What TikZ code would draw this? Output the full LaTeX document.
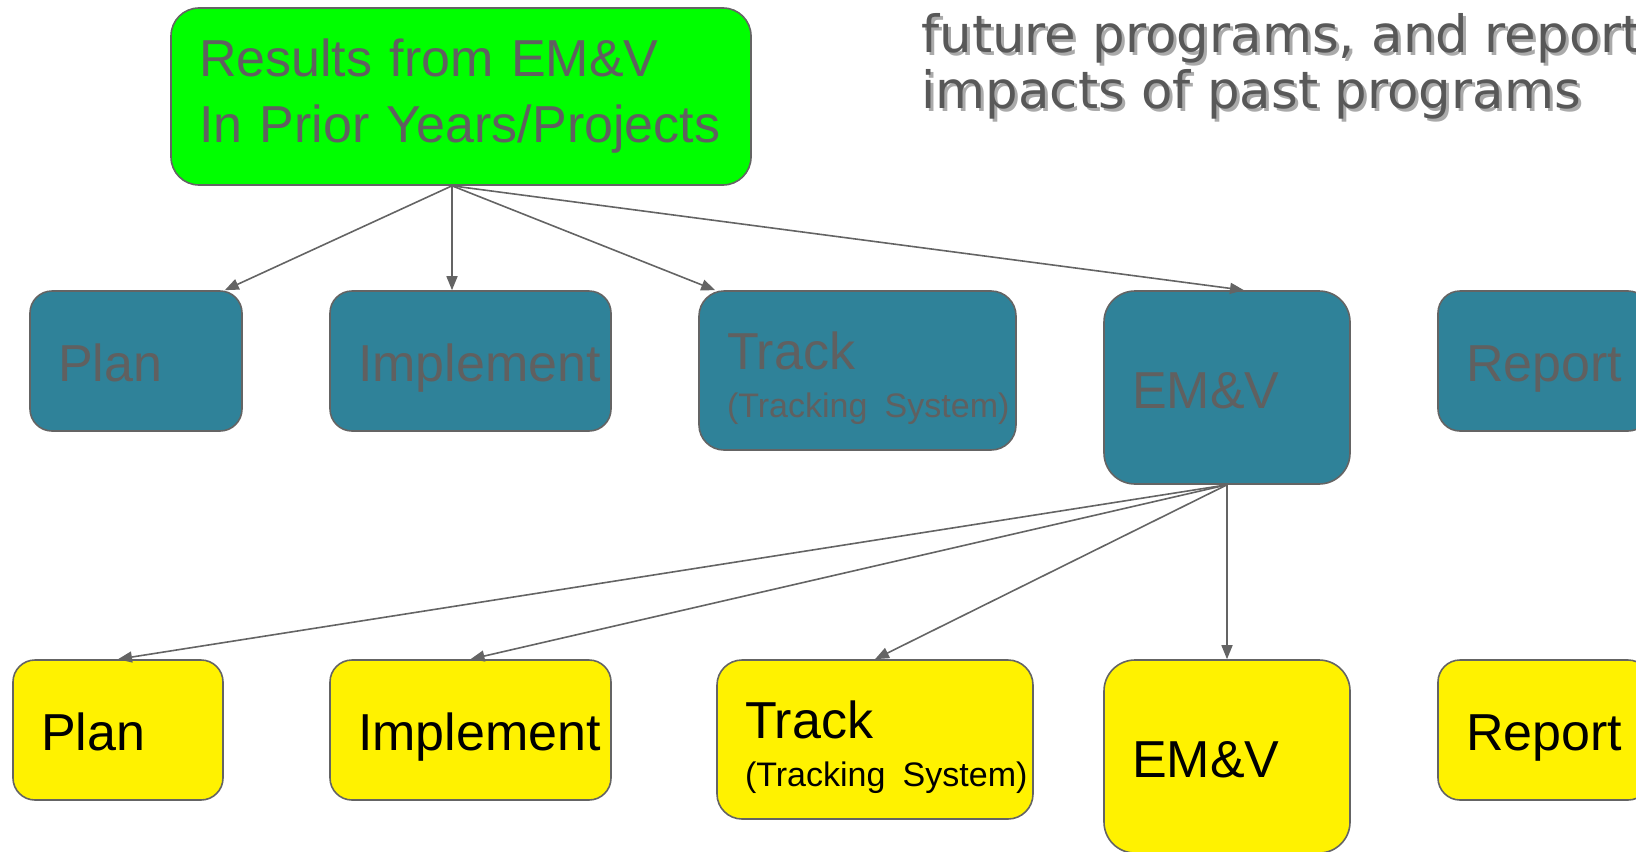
\documentclass[tikz,border=0pt]{standalone}
\usepackage{fontspec}
\setmainfont{Liberation Sans}
\newfontfamily\notefont{DejaVu Sans}
\usetikzlibrary{arrows.meta}
\definecolor{tealc}{RGB}{47,130,153}
\definecolor{linegray}{RGB}{100,100,100}
\definecolor{textgray}{RGB}{96,96,96}
\definecolor{notegray}{RGB}{88,88,88}
\definecolor{notesh}{RGB}{170,170,170}
\hfuzz=100pt \hbadness=10000
\begin{document}
\begin{tikzpicture}[x=0.5pt,y=-0.5pt,
    box/.style={draw=linegray,line width=0.8pt,align=left,inner xsep=0pt,
      font=\fontsize{26}{33}\selectfont},
    oneline/.style={text height=22pt,text depth=1.4pt},
    tealbox/.style={box,fill=tealc,text=textgray},
    ylwbox/.style={box,fill=yellow,text=black},
    arr/.style={draw=linegray,line width=0.8pt,-{Triangle[length=7pt,width=5.5pt]}},
    notetext/.style={anchor=base west,inner sep=0pt,font=\notefont\fontsize{25.7}{30}\selectfont}]
\clip (0,0) rectangle (1636,851);
% source box
\node[box,fill=green,text=textgray,rounded corners=14pt,minimum width=290pt,minimum height=88.5pt,text width=262pt]
  (results) at (461,96.5) {Results from EM\&V\\In Prior Years/Projects};
% note top right
\foreach \s/\c in {3/notesh,0/notegray}{
  \node[notetext,text=\c] (noteA\s) at ([shift={(\s,\s)}]921,52) {future programs, and report};
  \node[notetext,text=\c] (noteB\s) at ([shift={(\s,\s)}]921,108) {impacts of past programs};
}
% first row
\node[tealbox,oneline,rounded corners=11pt,minimum width=106pt,minimum height=70pt,text width=78pt] (tplan) at (136,361) {Plan};
\node[tealbox,oneline,rounded corners=11pt,minimum width=140.5pt,minimum height=70pt,text width=112.5pt] (timpl) at (470.5,361) {Implement};
\node[tealbox,rounded corners=12.5pt,minimum width=158.5pt,minimum height=79.5pt,text width=130.5pt] (ttrack) at (857.5,370.5)
  {\rule{0pt}{27pt}Track\\[-9pt]\mbox{\fontsize{17}{20}\selectfont(Tracking System)}};
\node[tealbox,oneline,rounded corners=15.5pt,minimum width=123pt,minimum height=96.5pt,text width=95pt] (temv) at (1227,387.5) {EM\&V};
\node[tealbox,oneline,rounded corners=11pt,minimum width=106pt,minimum height=70pt,text width=78pt] (treport) at (1544,361) {Report};
% second row
\node[ylwbox,oneline,rounded corners=11pt,minimum width=105pt,minimum height=70pt,text width=77pt] (yplan) at (118,730) {Plan};
\node[ylwbox,oneline,rounded corners=11pt,minimum width=140.5pt,minimum height=70pt,text width=112.5pt] (yimpl) at (470.5,730) {Implement};
\node[ylwbox,rounded corners=12.5pt,minimum width=158pt,minimum height=79.5pt,text width=130pt] (ytrack) at (875,739.5)
  {\rule{0pt}{27pt}Track\\[-9pt]\mbox{\fontsize{17}{20}\selectfont(Tracking System)}};
\node[ylwbox,oneline,rounded corners=15.5pt,minimum width=123pt,minimum height=96.5pt,text width=95pt] (yemv) at (1227,756.5) {EM\&V};
\node[ylwbox,oneline,rounded corners=11pt,minimum width=106pt,minimum height=70pt,text width=78pt] (yreport) at (1544,730) {Report};
% arrows
\coordinate (rsrc) at ([xshift=-4.5pt]results.south);
\draw[arr] (rsrc) -- ([xshift=-9pt]tplan.north east);
\draw[arr] (rsrc) -- ([xshift=-9.25pt]timpl.north);
\draw[arr] (rsrc) -- ([xshift=8.5pt]ttrack.north west);
\draw[arr] (rsrc) -- ([xshift=8.5pt]temv.north);
\foreach \t in {yplan,yimpl,ytrack,yemv}
  \draw[arr] (temv.south) -- (\t.north);
\end{tikzpicture}
\end{document}
